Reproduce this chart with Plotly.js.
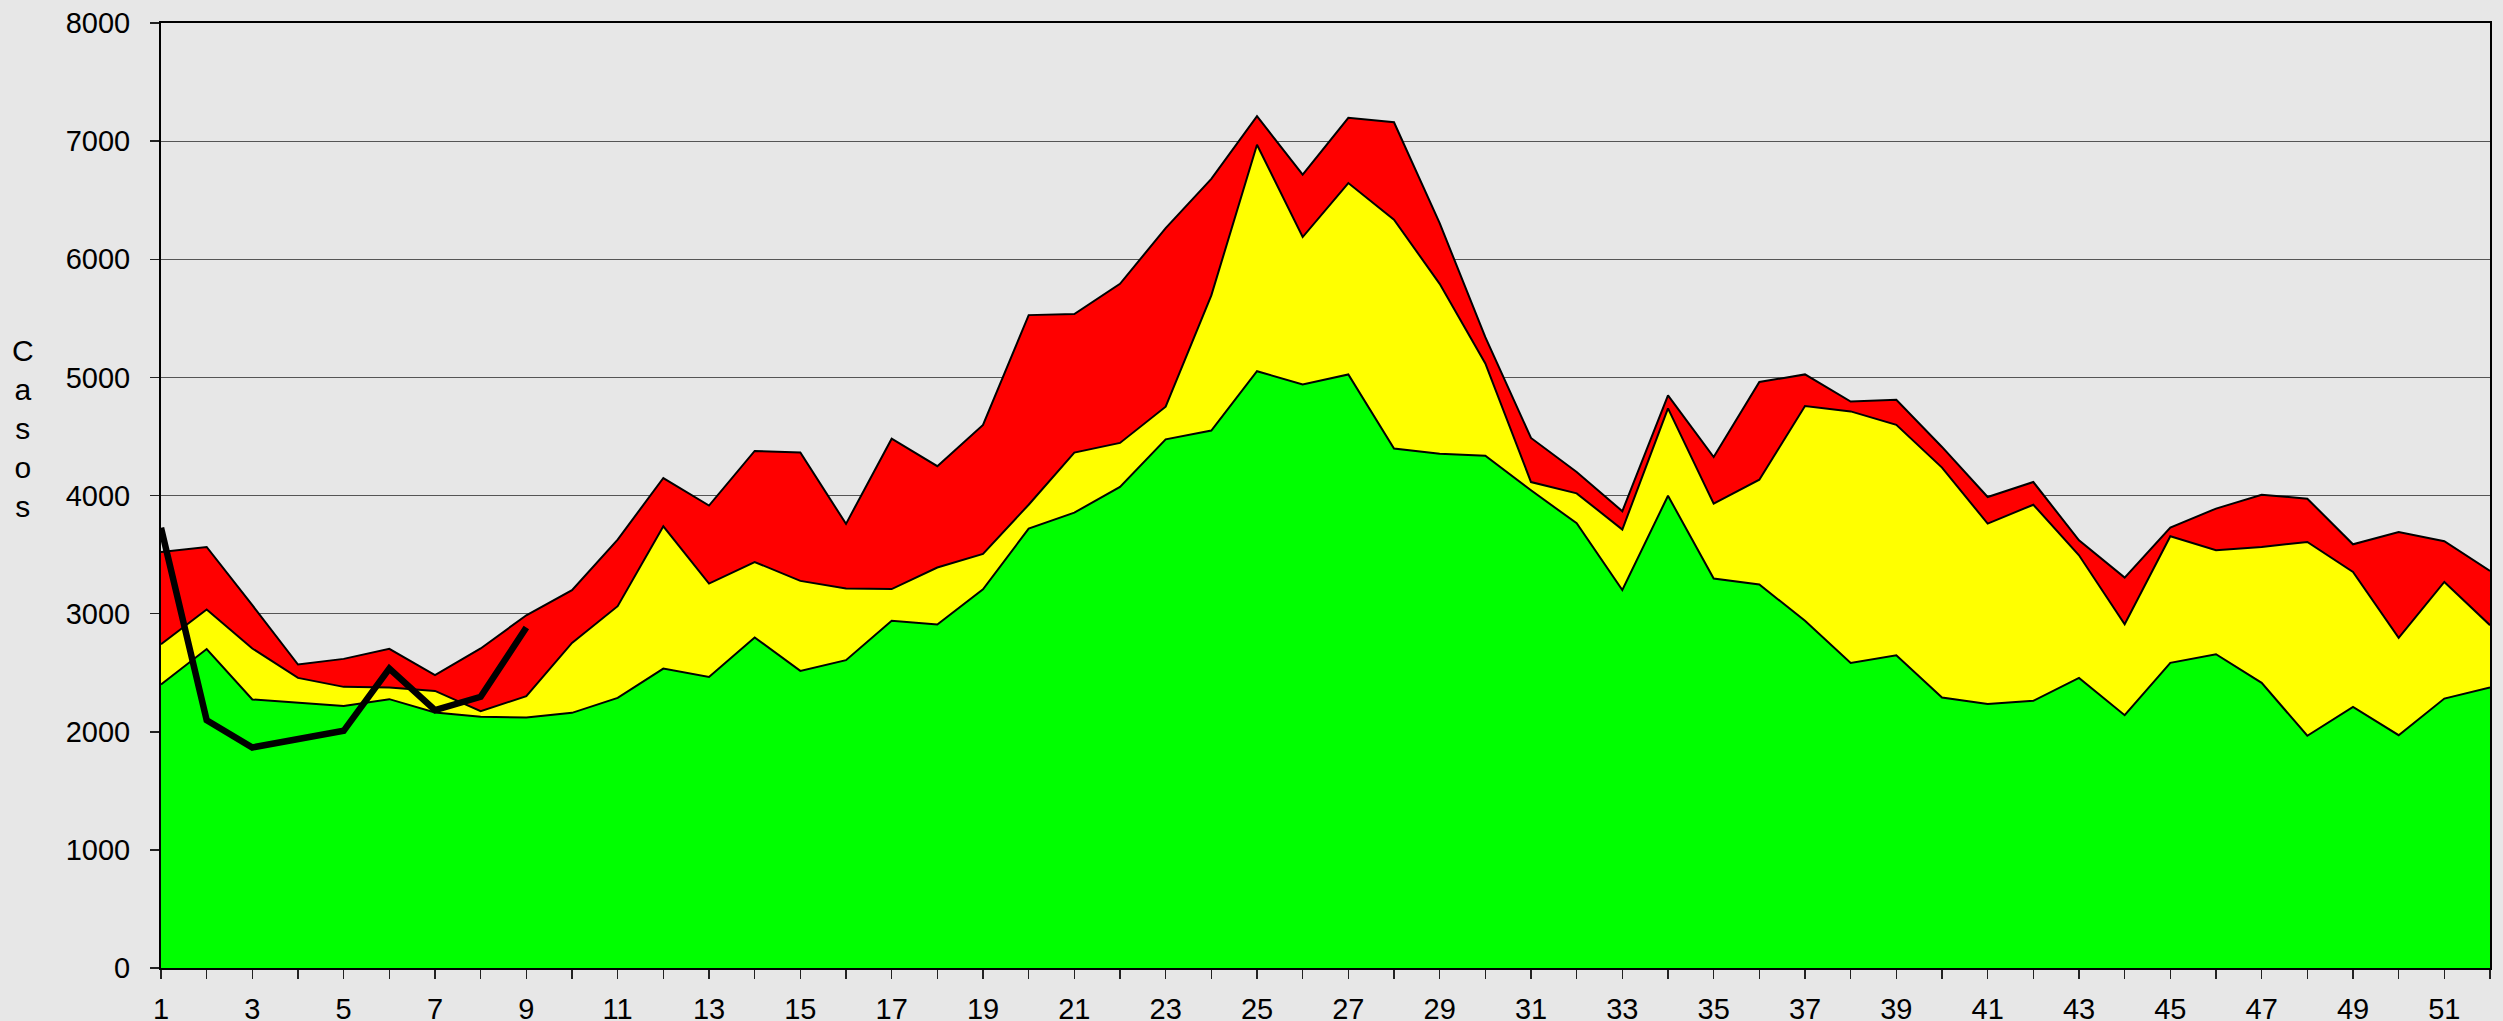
<!DOCTYPE html>
<html>
<head>
<meta charset="utf-8">
<script src="https://cdn.plot.ly/plotly-3.0.1.min.js"></script>
<style>
  html, body { margin: 0; padding: 0; background: #e7e7e7; }
  #chart { width: 2503px; height: 1021px; }
</style>
</head>
<body>
<div id="chart"></div>
<script>
// Semanas epidemiológicas
const weeks = [1,2,3,4,5,6,7,8,9,10,11,12,13,14,15,16,17,18,19,20,21,22,23,24,25,26,
               27,28,29,30,31,32,33,34,35,36,37,38,39,40,41,42,43,44,45,46,47,48,49,50,51,52];
const weekTicks = [1,3,5,7,9,11,13,15,17,19,21,23,25,27,29,31,33,35,37,39,41,43,45,47,49,51];
const yTicks = [0,1000,2000,3000,4000,5000,6000,7000,8000];

// Límites del canal endémico (valores acumulados, casos)
const zonaExito = [2400,2700,2273,2248,2219,2276,2163,2126,2121,2160,2287,2535,2464,2798,2515,2606,
                   2940,2908,3205,3720,3855,4073,4475,4550,5052,4940,5025,4398,4354,4336,4044,3765,
                   3200,3998,3297,3246,2940,2583,2648,2290,2234,2262,2456,2140,2583,2656,2414,1966,
                   2211,1971,2281,2375];
const zonaSeguridad = [2741,3035,2705,2456,2380,2375,2346,2174,2301,2752,3063,3739,3254,3437,3277,3212,
                       3208,3390,3505,3922,4363,4445,4752,5694,6969,6188,6645,6335,5792,5118,4114,4018,
                       3712,4738,3931,4134,4757,4712,4598,4236,3762,3922,3494,2910,3655,3536,3564,3607,
                       3353,2795,3268,2902];
const zonaAlerta = [3522,3564,3071,2569,2617,2702,2479,2705,2986,3198,3627,4148,3915,4377,4365,3760,
                    4481,4248,4597,5527,5536,5792,6263,6681,7211,6717,7197,7160,6306,5340,4487,4199,
                    3867,4848,4326,4961,5025,4795,4810,4411,3987,4114,3621,3305,3728,3889,4007,3973,
                    3587,3691,3613,3361];

// Casos del año en curso
const weeksActual = [1,2,3,4,5,6,7,8,9];
const casosActual = [3728,2098,1867,1935,2008,2535,2183,2296,2882];

const outline = {color: '#000000', width: 2};

const traces = [
  {x: weeks, y: zonaExito, type: 'scatter', mode: 'lines', name: 'Éxito',
   fill: 'tozeroy', fillcolor: '#00ff00', line: outline, hoverinfo: 'x+y'},
  {x: weeks, y: zonaSeguridad, type: 'scatter', mode: 'lines', name: 'Seguridad',
   fill: 'tonexty', fillcolor: '#ffff00', line: outline, hoverinfo: 'x+y'},
  {x: weeks, y: zonaAlerta, type: 'scatter', mode: 'lines', name: 'Alerta',
   fill: 'tonexty', fillcolor: '#ff0000', line: outline, hoverinfo: 'x+y'},
  {x: weeksActual, y: casosActual, type: 'scatter', mode: 'lines', name: 'Casos',
   line: {color: '#000000', width: 6.5}, hoverinfo: 'x+y'}
];

const tickFont = {family: 'Liberation Sans, Arial, sans-serif', size: 29, color: '#000000'};

const layout = {
  width: 2503,
  height: 1021,
  paper_bgcolor: '#e7e7e7',
  plot_bgcolor: '#e7e7e7',
  showlegend: false,
  margin: {l: 161, r: 13, t: 23, b: 53, pad: 0},
  xaxis: {
    range: [1, 52],
    tickmode: 'array',
    tickvals: weekTicks,
    ticktext: weekTicks.map(String),
    ticks: 'outside',
    ticklen: 9,
    tickwidth: 1.5,
    tickcolor: '#222222',
    minor: {dtick: 1, tick0: 1, ticks: 'outside', ticklen: 9, tickwidth: 1.5, tickcolor: '#222222', showgrid: false},
    showgrid: false,
    zeroline: false,
    showline: true,
    linecolor: '#000000',
    linewidth: 2,
    mirror: true,
    tickfont: tickFont,
    ticklabelstandoff: 5,
    fixedrange: true
  },
  yaxis: {
    range: [0, 8000],
    tickmode: 'array',
    tickvals: yTicks,
    ticktext: yTicks.map(String),
    ticks: 'outside',
    ticklen: 9,
    tickwidth: 1.5,
    tickcolor: '#222222',
    showgrid: true,
    gridcolor: '#555555',
    gridwidth: 1,
    zeroline: false,
    showline: true,
    linecolor: '#000000',
    linewidth: 2,
    mirror: true,
    tickfont: tickFont,
    ticklabelstandoff: 14,
    fixedrange: true
  },
  annotations: [{
    text: 'C<br>a<br>s<br>o<br>s',
    xref: 'paper', yref: 'paper',
    x: -0.0593, y: 0.571,
    xanchor: 'center', yanchor: 'middle',
    showarrow: false,
    align: 'center',
    font: {family: 'Liberation Sans, Arial, sans-serif', size: 30, color: '#000000'}
  }]
};

Plotly.newPlot('chart', traces, layout, {displayModeBar: false, staticPlot: true});
</script>
</body>
</html>
